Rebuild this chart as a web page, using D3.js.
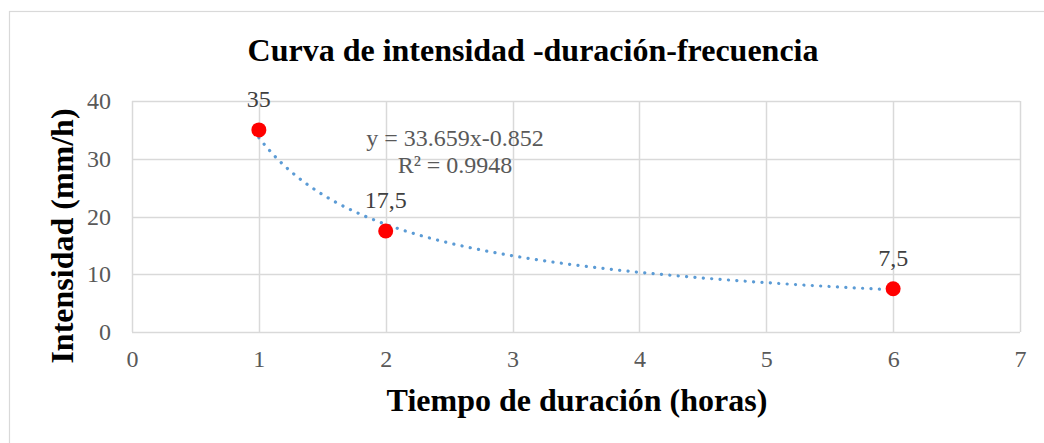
<!DOCTYPE html>
<html>
<head>
<meta charset="utf-8">
<script src="https://cdn.jsdelivr.net/npm/d3@7/dist/d3.min.js"></script>
<style>
  html, body { margin: 0; padding: 0; background: #fff; }
  svg { display: block; }
  text { font-family: "Liberation Serif", "Times New Roman", serif; }
</style>
</head>
<body>
<svg id="chart" width="1044" height="443"></svg>
<script>
// Duración (horas) e intensidad (mm/h)
const durations = [1, 2, 6];
const intensities = [35, 17.5, 7.5];
const pointLabels = ["35", "17,5", "7,5"];
const xTicks = [0, 1, 2, 3, 4, 5, 6, 7];
const yTicks = [0, 10, 20, 30, 40];
// Ajuste potencial y = a·x^b
const fitA = 33.659;
const fitB = -0.852;
const fitText = ["y = 33.659x-0.852", "R² = 0.9948"];

const svg = d3.select("#chart");
const m = { left: 132, right: 1020, top: 101, bottom: 332 };

// Chart frame (extends past the right and bottom edges of the view)
svg.append("rect")
  .attr("x", 9.5).attr("y", 11.5)
  .attr("width", 1100).attr("height", 500)
  .attr("fill", "#fff").attr("stroke", "#d9d9d9").attr("stroke-width", 1.2);

const x = d3.scaleLinear().domain([0, 7]).range([m.left, m.right]);
const y = d3.scaleLinear().domain([0, 40]).range([m.bottom, m.top]);

// Gridlines
svg.append("g").selectAll("line").data(yTicks).join("line")
  .attr("x1", m.left).attr("x2", m.right)
  .attr("y1", d => Math.round(y(d)) + 0.5).attr("y2", d => Math.round(y(d)) + 0.5)
  .attr("stroke", "#d9d9d9").attr("stroke-width", 1.5);
svg.append("g").selectAll("line").data(xTicks).join("line")
  .attr("y1", m.top).attr("y2", m.bottom)
  .attr("x1", d => Math.round(x(d)) + 0.5).attr("x2", d => Math.round(x(d)) + 0.5)
  .attr("stroke", "#d9d9d9").attr("stroke-width", 1.5);

// Axes (labels only; lines come from the grid)
const xAxis = svg.append("g")
  .attr("transform", `translate(0,${m.bottom})`)
  .call(d3.axisBottom(x).tickValues(xTicks).tickFormat(d3.format("d")).tickSize(0).tickPadding(18));
const yAxis = svg.append("g")
  .attr("transform", `translate(${m.left},0)`)
  .call(d3.axisLeft(y).tickValues(yTicks).tickFormat(d3.format("d")).tickSize(0).tickPadding(21));
[xAxis, yAxis].forEach(g => {
  g.select(".domain").remove();
  g.selectAll("text")
    .attr("fill", "#595959")
    .style("font-family", '"Liberation Serif", serif')
    .style("font-size", "24px");
});

// Trendline
const curveXs = d3.range(1, 6.0001, 0.05);
const line = d3.line().x(d => x(d)).y(d => y(fitA * Math.pow(d, fitB)));
svg.append("path")
  .datum(curveXs)
  .attr("d", line)
  .attr("fill", "none")
  .attr("stroke", "#5b9bd5")
  .attr("stroke-width", 3.2)
  .attr("stroke-linecap", "round")
  .attr("stroke-dasharray", "0.1 8.3");

// Points
const pts = durations.map((d, i) => ({ d, v: intensities[i], label: pointLabels[i] }));
svg.append("g").selectAll("circle").data(pts).join("circle")
  .attr("cx", p => x(p.d)).attr("cy", p => y(p.v))
  .attr("r", 7.5).attr("fill", "#ff0000");

// Point labels
svg.append("g").selectAll("text").data(pts).join("text")
  .attr("x", p => x(p.d)).attr("y", p => y(p.v) - 23)
  .attr("text-anchor", "middle")
  .attr("fill", "#404040")
  .style("font-size", "24px")
  .text(p => p.label);

// Trendline equation
svg.append("text")
  .attr("text-anchor", "middle")
  .attr("fill", "#595959").style("font-size", "24px")
  .selectAll("tspan").data(fitText).join("tspan")
  .attr("x", 455)
  .attr("y", (d, i) => i === 0 ? 146 : 173)
  .text(d => d);

// Title
svg.append("text")
  .attr("x", 533).attr("y", 61)
  .attr("text-anchor", "middle")
  .attr("fill", "#000")
  .style("font-size", "32px").style("font-weight", "bold")
  .text("Curva de intensidad -duración-frecuencia");

// Axis titles
svg.append("text")
  .attr("x", 577).attr("y", 411)
  .attr("text-anchor", "middle")
  .attr("fill", "#000")
  .style("font-size", "32px").style("font-weight", "bold")
  .text("Tiempo de duración (horas)");

svg.append("text")
  .attr("transform", "translate(73,236) rotate(-90)")
  .attr("text-anchor", "middle")
  .attr("fill", "#000")
  .style("font-size", "32px").style("font-weight", "bold")
  .text("Intensidad (mm/h)");
</script>
</body>
</html>
